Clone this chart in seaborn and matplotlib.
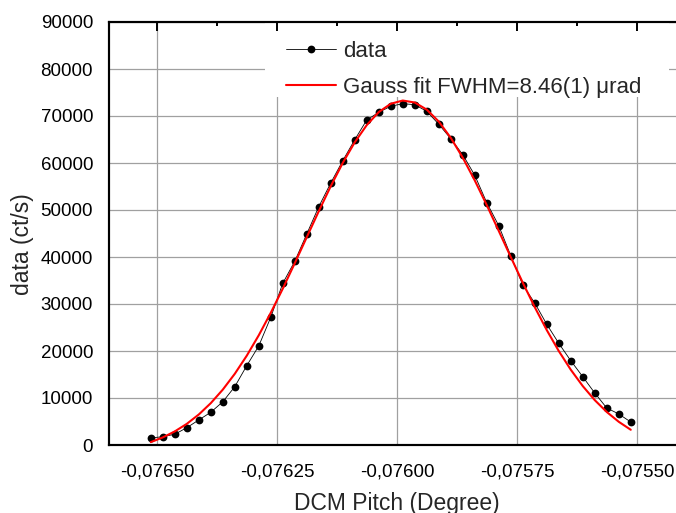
import matplotlib
matplotlib.use('Agg')
import matplotlib.pyplot as plt
import seaborn as sns
from matplotlib.ticker import MultipleLocator, FuncFormatter
from matplotlib.patches import Rectangle

# Style
sns.set_theme(style="white")
plt.rcParams['font.family'] = ['Liberation Sans', 'DejaVu Sans']

# Data
pitch = [-0.076513, -0.076488, -0.076463, -0.076438, -0.076413, -0.076388,
         -0.076363, -0.076338, -0.076313, -0.076288, -0.076263, -0.076238,
         -0.076213, -0.076188, -0.076163, -0.076138, -0.076113, -0.076088,
         -0.076063, -0.076038, -0.076013, -0.075988, -0.075963, -0.075938,
         -0.075913, -0.075888, -0.075863, -0.075838, -0.075813, -0.075788,
         -0.075763, -0.075738, -0.075713, -0.075688, -0.075663, -0.075638,
         -0.075613, -0.075588, -0.075563, -0.075538, -0.075513]
counts = [1490, 1770, 2280, 3680, 5320, 6960, 9190, 12400, 16880, 21070,
          27170, 34400, 39090, 44890, 50700, 55750, 60490, 64960, 69150, 70790,
          72070, 72620, 72410, 71000, 68240, 65170, 61770, 57390, 51560, 46660,
          40280, 34040, 30210, 25680, 21640, 17940, 14530, 11060, 7870, 6600,
          4890]
fit = [610, 1608, 2887, 4495, 6485, 8899, 11774, 15139, 19000, 23342,
       28121, 33262, 38673, 44215, 49738, 55071, 60023, 64409, 68069, 70837,
       72604, 73292, 72870, 71357, 68818, 65362, 61135, 56296, 51043, 45548,
       39998, 34542, 29324, 24452, 20000, 16022, 12538, 9546, 7025, 4939,
       3241]

x_label = 'DCM Pitch (Degree)'
y_label = 'data (ct/s)'
data_label = 'data'
fit_label = 'Gauss fit FWHM=8.46(1) \u03bcrad'

W, H = 676, 513
fig = plt.figure(figsize=(W / 100, H / 100), dpi=100)
pos = [109 / W, (H - 445) / H, 576 / W, 423 / H]
ax = fig.add_axes(pos)

sns.lineplot(x=pitch, y=counts, ax=ax, color='black', linewidth=0.6,
             marker='o', markersize=5.6, markeredgewidth=0, label=data_label,
             zorder=3)
sns.lineplot(x=pitch, y=fit, ax=ax, color='#ff0000', linewidth=1.5,
             label=fit_label, zorder=4)

ax.set_xlim(-0.0766, -0.0754)
ax.set_ylim(0, 90000)
ax.xaxis.set_major_locator(MultipleLocator(0.00025))
ax.xaxis.set_minor_locator(MultipleLocator(0.000125))
ax.yaxis.set_major_locator(MultipleLocator(10000))
ax.yaxis.set_minor_locator(MultipleLocator(5000))
ax.xaxis.set_major_formatter(FuncFormatter(lambda v, p: f"{v:.5f}".replace('.', ',')))
ax.yaxis.set_major_formatter(FuncFormatter(lambda v, p: f"{v:.0f}"))

ax.set_axisbelow(True)
ax.grid(True, which='major', color='#a0a0a0', linewidth=0.9)
ax.tick_params(which='both', direction='out', top=False, right=False,
               width=1.4, colors='black', labelsize=13.5)
ax.tick_params(which='major', length=7.2, pad=4.3)
ax.tick_params(which='minor', length=3.6)
ax.tick_params(axis='x', which='major', pad=6)
for s in ax.spines.values():
    s.set_linewidth(1.5)
    s.set_color('black')

ax.set_xlabel(x_label, fontsize=16.5)
ax.set_ylabel(y_label, fontsize=16.5)
ax.xaxis.set_label_coords(0.5, -0.11)
ax.yaxis.set_label_coords(-0.13, 0.475)

# white area behind the legend
ax.add_patch(Rectangle((0.271, 0.823), 0.701, 0.2, transform=ax.transAxes,
                       facecolor='white', edgecolor='none', zorder=1))

handles, labels = ax.get_legend_handles_labels()
ax.legend(handles, labels, loc='upper left', bbox_to_anchor=(0.307, 0.955),
          frameon=False, fontsize=16, handlelength=2.27, handletextpad=0.3,
          labelspacing=0.66, borderpad=0, borderaxespad=0, numpoints=1)

# overlay axes for the inward top/right ticks
ax2 = fig.add_axes(pos, sharex=ax, sharey=ax, facecolor='none')
ax2.grid(False)
ax2.tick_params(which='both', direction='in', bottom=False, left=False,
                top=True, right=True, labelbottom=False, labelleft=False,
                width=1.4, colors='black')
ax2.tick_params(which='major', length=6.5)
ax2.tick_params(which='minor', length=3.2)
for s in ax2.spines.values():
    s.set_linewidth(1.5)
    s.set_color('black')

fig.savefig('out.png', dpi=100)
